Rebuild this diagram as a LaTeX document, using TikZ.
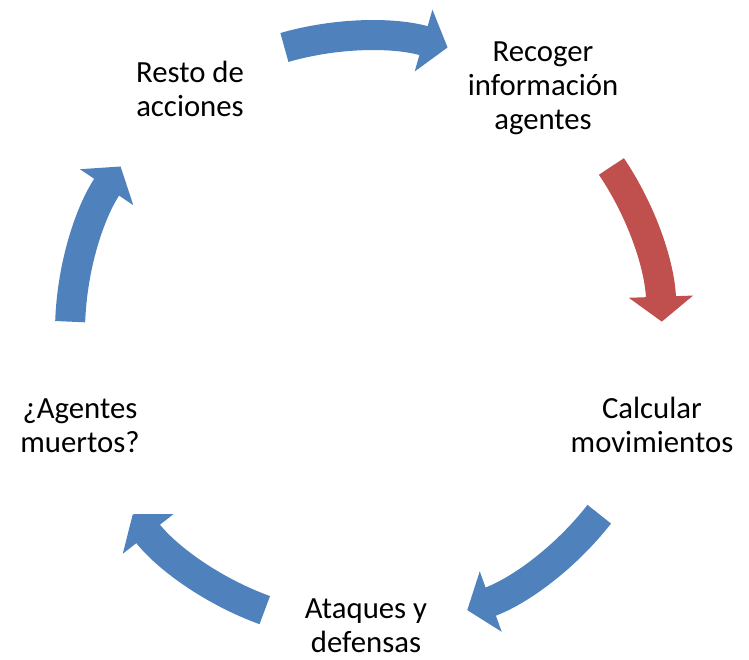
\documentclass[tikz,border=0pt]{standalone}
\usepackage{fontspec}
\setmainfont{Carlito}
\usetikzlibrary{arrows.meta,calc}
\definecolor{cycblue}{HTML}{4F81BD}
\definecolor{cycred}{HTML}{C0504D}

\begin{document}
\begin{tikzpicture}[
  lbl/.style={align=center,inner sep=1pt,
              font=\fontsize{17.5}{19.3}\selectfont},
  cyc/.style={line width=0.6cm,draw=cycblue,
              -{Triangle[width=1.26cm,length=0.5cm]}}]
\useasboundingbox (0,0) rectangle (14.98,13.2);
%%
%% Centre of the cycle
\coordinate (O) at (7.32,6.56);
%%
%% Steps
\node[lbl](rec) at (10.86,11.44) {Recoger\\información\\agentes};
\node[lbl](cal) at (13.04, 4.70) {Calcular\\movimientos};
\node[lbl](ata) at ( 7.32, 0.68) {Ataques y\\defensas};
\node[lbl](mue) at ( 1.60, 4.68) {¿Agentes\\muertos?};
\node[lbl](res) at ( 3.80,11.42) {Resto de\\acciones};
%%
%% Tails of the arrows
\coordinate (t1) at ($(O)+(106:5.92)$);
\coordinate (t2) at ($(O)+(34:5.92)$);
\coordinate (t3) at ($(O)+(-38:5.92)$);
\coordinate (t4) at ($(O)+(-110:5.92)$);
\coordinate (t5) at ($(O)+(178:5.92)$);
%%
%% Arrows round the circle
\draw[cyc] (t1) arc[start angle=106, end angle=74, radius=5.92cm];
\draw[cyc,draw=cycred] (t2) arc[start angle=34, end angle=2, radius=5.92cm];
\draw[cyc] (t3) arc[start angle=-38, end angle=-70, radius=5.92cm];
\draw[cyc] (t4) arc[start angle=-110, end angle=-142, radius=5.92cm];
\draw[cyc] (t5) arc[start angle=178, end angle=146, radius=5.92cm];
\end{tikzpicture}
\end{document}
